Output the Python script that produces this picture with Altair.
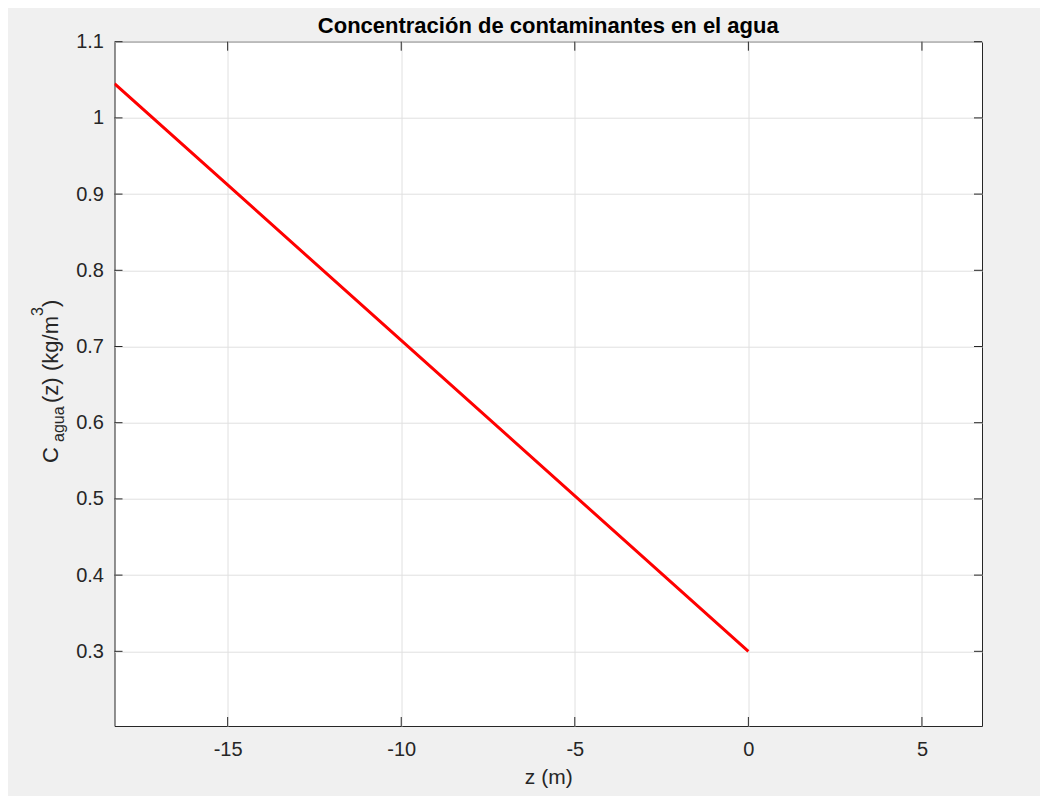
import altair as alt
import pandas as pd

# data
z_vals = [-18.26, -15, -10, -5, 0]
c_vals = [1.045, 0.912, 0.708, 0.504, 0.300]
x_ticks = [-15, -10, -5, 0, 5]
y_ticks = [0.3, 0.4, 0.5, 0.6, 0.7, 0.8, 0.9, 1.0, 1.1]
x_domain = [-18.26, 6.73]
y_domain = [0.202, 1.1]
title_text = "Concentración de contaminantes en el agua"

W, H = 867.5, 684.3
FONT = "Liberation Sans"
DARK = "#262626"

line_df = pd.DataFrame({"z": z_vals, "C": c_vals})
xt_df = pd.DataFrame({"t": x_ticks})
yt_df = pd.DataFrame({"t": y_ticks})

xscale = alt.Scale(domain=x_domain, nice=False, zero=False)
yscale = alt.Scale(domain=y_domain, nice=False, zero=False)

xaxis = alt.Axis(values=x_ticks, grid=True, gridColor="#e0e0e0", ticks=False, tickSize=0,
                 domain=False, labelFont=FONT, labelFontSize=20, labelColor=DARK,
                 labelPadding=13,
                 labelExpr="datum.value < 0 ? '-' + format(-datum.value, 'd') : format(datum.value, 'd')",
                 title="z (m)", titleFont=FONT, titleFontSize=21,
                 titleFontWeight="normal", titleColor=DARK, titlePadding=7)
yaxis = alt.Axis(values=y_ticks, grid=True, gridColor="#e0e0e0", ticks=False, tickSize=0,
                 domain=False, labelFont=FONT, labelFontSize=20, labelColor=DARK,
                 labelPadding=11, title=None, labelExpr="format(datum.value, '~g')")

line = alt.Chart(line_df).mark_line(color="#ff0000", strokeWidth=3, clip=True).encode(
    x=alt.X("z:Q", scale=xscale, axis=xaxis),
    y=alt.Y("C:Q", scale=yscale, axis=yaxis),
)

tick_kw = dict(color=DARK, strokeWidth=1)
bot = alt.Chart(xt_df).mark_rule(**tick_kw).encode(
    x=alt.X("t:Q", scale=xscale), y=alt.value(H), y2=alt.value(H - 9))
top = alt.Chart(xt_df).mark_rule(**tick_kw).encode(
    x=alt.X("t:Q", scale=xscale), y=alt.value(0), y2=alt.value(9))
left = alt.Chart(yt_df).mark_rule(**tick_kw).encode(
    y=alt.Y("t:Q", scale=yscale), x=alt.value(0), x2=alt.value(8))
right = alt.Chart(yt_df).mark_rule(**tick_kw).encode(
    y=alt.Y("t:Q", scale=yscale), x=alt.value(W), x2=alt.value(W - 8))

ox, oy = 114.5, 41.7
title = alt.Chart(pd.DataFrame({"t": [title_text]})).mark_text(
    text=title_text, align="center", baseline="alphabetic", font=FONT,
    fontSize=22, fontWeight="bold", color="#000000"
).encode(x=alt.value(W / 2), y=alt.value(33 - oy))

# y-axis title built from pieces (subscript / superscript)
pieces = [
    ("C", 22, 58, 463),
    ("agua", 16, 64, 442),
    ("(z)", 22, 58, 403),
    ("(kg/m", 22, 58, 371),
    ("3", 16, 43, 316),
    (")", 22, 58, 307),
]
ylabel_layers = []
for txt, fs, bx, sy in pieces:
    ylabel_layers.append(
        alt.Chart(pd.DataFrame({"t": [txt]})).mark_text(
            text=txt, angle=270, align="left", baseline="alphabetic",
            font=FONT, fontSize=fs, color=DARK
        ).encode(x=alt.value(bx - ox), y=alt.value(sy - oy))
    )

chart = alt.layer(line, bot, top, left, right, title, *ylabel_layers).properties(
    width=W, height=H,
    autosize=alt.AutoSizeParams(type="none"),
    padding={"left": 106.5, "top": 33.7, "right": 58, "bottom": 70},
    background="#f0f0f0",
).configure_view(fill="white", stroke=DARK, strokeWidth=1)

chart.save("out.html", embed_options={"renderer": "svg", "actions": False})
